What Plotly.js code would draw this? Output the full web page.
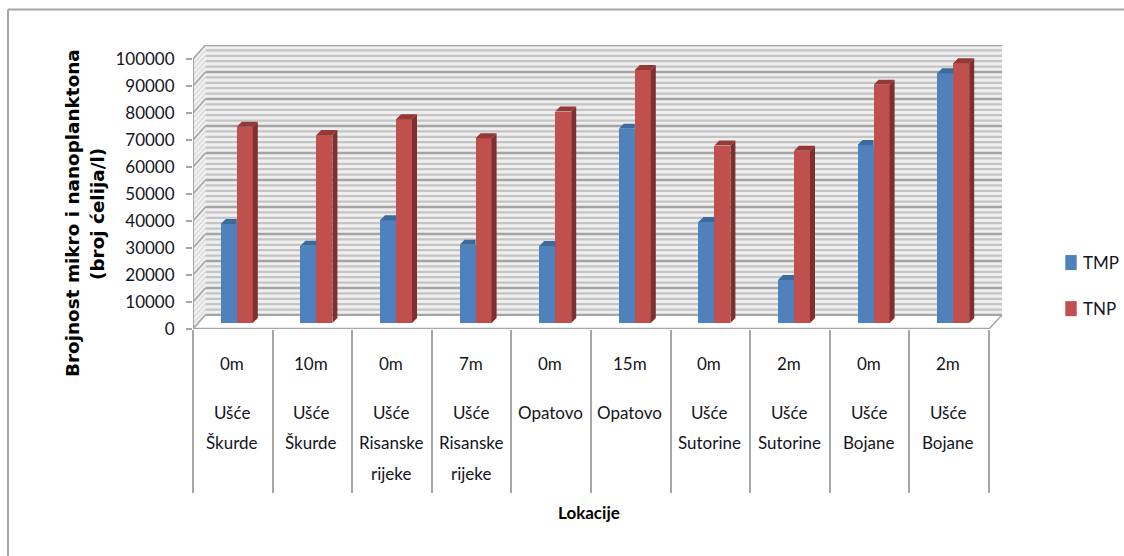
<!DOCTYPE html>
<html>
<head>
<meta charset="utf-8">
<script src="https://cdn.plot.ly/plotly-3.0.1.min.js"></script>
<style>html,body{margin:0;padding:0;background:#fff;overflow:hidden}</style>
</head>
<body>
<div style="width:1124px;height:556px;overflow:hidden"><div id="chart" style="width:1200px;height:556px"></div></div>
<script>
const depths = ["0m","10m","0m","7m","0m","15m","0m","2m","0m","2m"];
const locations = [
  ["Ušće","Škurde"],["Ušće","Škurde"],
  ["Ušće","Risanske","rijeke"],["Ušće","Risanske","rijeke"],
  ["Opatovo"],["Opatovo"],
  ["Ušće","Sutorine"],["Ušće","Sutorine"],
  ["Ušće","Bojane"],["Ušće","Bojane"]
];
const tmp = [36700,28600,38100,29000,28500,71900,37400,15900,65900,92500];
const tnp = [72700,69600,75500,68400,78300,93700,65700,63800,88200,96200];
const yTicks = [0,10000,20000,30000,40000,50000,60000,70000,80000,90000,100000];

// Scale of the chart frame, in pixels
const L = 193, PR = 1200, WALLR = 1002, T = 45, B = 329;
const pxPerCat = 79.6, pxPerUnit = 270 / 100000;
const dx = px => px / pxPerCat, dy = px => px / pxPerUnit;
const xEnd = (PR - L) / pxPerCat - 0.5, xWall = (WALLR - L) / pxPerCat - 0.5, yMax = (B - T) / pxPerUnit;
const X0 = -0.5, X1 = 9.5;
const wallX = dx(12.5), wallY = dy(14);
const barBase = dy(6), barOff = dx(-12), barW = dx(16), sideX = dx(5), sideY = dy(5);
const px2x = p => (p - L) / (PR - L), px2y = p => (B - p) / (B - T);

function polys(list) {
  const xs = [], ys = [];
  list.forEach(pts => { pts.forEach(p => { xs.push(p[0]); ys.push(p[1]); }); xs.push(pts[0][0]); ys.push(pts[0][1]); xs.push(null); ys.push(null); });
  return {x: xs, y: ys};
}
function face(pts, color) {
  const p = polys(pts);
  return {type:'scatter', mode:'lines', x:p.x, y:p.y, fill:'toself', fillcolor:color,
          line:{width:0,color:color}, hoverinfo:'skip', showlegend:false};
}
const idx = depths.map((_, i) => i);
const topFaceTmp = [], topFaceTnp = [], sideTnp = [];
idx.forEach(i => {
  const s0 = i + barOff, e0 = s0 + barW, e1 = e0 + barW;
  const t0 = barBase + tmp[i], t1 = barBase + tnp[i];
  topFaceTmp.push([[s0,t0],[e0,t0],[e0,t0+sideY],[s0+sideX,t0+sideY]]);
  topFaceTnp.push([[e0,t1],[e1,t1],[e1+sideX,t1+sideY],[e0+sideX,t1+sideY]]);
  sideTnp.push([[e1,barBase],[e1+sideX,barBase+sideY],[e1+sideX,t1+sideY],[e1,t1]]);
});

const traces = [
  {type:'bar', name:'TMP', x:idx, y:tmp, base:barBase, width:barW, offset:barOff,
   marker:{color:'#4f81bd',line:{width:0}}, legendgroup:'a', hovertemplate:'TMP %{y}<extra></extra>'},
  {type:'bar', name:'TNP', x:idx, y:tnp, base:barBase, width:barW, offset:barOff+barW,
   marker:{color:'#c0504d',line:{width:0}}, legendgroup:'b', hovertemplate:'TNP %{y}<extra></extra>'},
  face(topFaceTmp,'#3b6a9c'),
  face(sideTnp,'#7f2f2d'),
  face(topFaceTnp,'#933a37')
];

const GRID = '#a4a4a4', FRAME = '#a6a6a6';
const shapes = [];
const dataLine = (x0,y0,x1,y1,color,width) => ({type:'line',xref:'x',yref:'y',x0,y0,x1,y1,layer:'below',line:{color,width}});
// back wall
shapes.push({type:'rect',xref:'x',yref:'y',x0:X0+wallX,x1:xWall,y0:wallY,y1:yMax,layer:'below',fillcolor:'#efefef',line:{width:0}});
// side wall
shapes.push({type:'path',xref:'x',yref:'y',layer:'below',fillcolor:'#efefef',line:{width:0},
  path:`M${X0},0 L${X0+wallX},${wallY} L${X0+wallX},${yMax} L${X0},100000 Z`});
for (let v = 0; v <= 100000; v += 2000) {
  const major = v % 10000 === 0;
  shapes.push(dataLine(X0+wallX, v+wallY, xWall, v+wallY, major ? GRID : '#c4c4c4', major ? 2.6 : 2.2));
  shapes.push(dataLine(X0, v, X0+wallX, v+wallY, major ? GRID : '#cfcfcf', major ? 1.6 : 1));
}
// floor
shapes.push({type:'path',xref:'x',yref:'y',layer:'below',fillcolor:'#ffffff',line:{width:0},
  path:`M${X0},0 L${X1},0 L${xWall},${wallY} L${X0+wallX},${wallY} Z`});
shapes.push(dataLine(X0+wallX, wallY, xWall, wallY, GRID, 2));
shapes.push(dataLine(X0, 0, X0+wallX, wallY, FRAME, 1.5));
shapes.push(dataLine(X1, 0, xWall, wallY, FRAME, 1.5));
shapes.push(dataLine(X0, 0, X1, 0, FRAME, 2.5));
shapes.push(dataLine(X0, 0, X0, 100000, FRAME, 2));
// outer frame
const frameLine = (x0,y0,x1,y1) => ({type:'line',xref:'paper',yref:'paper',x0:px2x(x0),y0:px2y(y0),x1:px2x(x1),y1:px2y(y1),line:{color:FRAME,width:2}});
shapes.push(frameLine(8,9.5,1200,9.5));
shapes.push(frameLine(8,9.5,8,556));

const LATO = 'Lato, sans-serif';
const TEXT = '#14141c';
const catFont = {family:LATO, size:17, color:TEXT};
const annotations = [];
const lineRows = [412,442,473];
idx.forEach(i => {
  annotations.push({xref:'x',yref:'paper',x:i+dx(-1),y:px2y(363),text:depths[i],showarrow:false,font:catFont,xanchor:'center',yanchor:'middle'});
  locations[i].forEach((t,j) => annotations.push({xref:'x',yref:'paper',x:i+dx(-1),y:px2y(lineRows[j]),text:t,showarrow:false,font:catFont,xanchor:'center',yanchor:'middle'}));
});
const titleFamily = '"DejaVu Sans", sans-serif';
annotations.push({xref:'paper',yref:'paper',x:px2x(72),y:px2y(213),text:'<b>Brojnost mikro i nanoplanktona</b>',textangle:-90,showarrow:false,font:{family:titleFamily,size:18.4,color:'#000'},xanchor:'center',yanchor:'middle'});
annotations.push({xref:'paper',yref:'paper',x:px2x(97),y:px2y(214),text:'<b>(broj ćelija/l)</b>',textangle:-90,showarrow:false,font:{family:titleFamily,size:18.4,color:'#000'},xanchor:'center',yanchor:'middle'});
annotations.push({xref:'paper',yref:'paper',x:px2x(589),y:px2y(512),text:'<b>Lokacije</b>',showarrow:false,font:{family:LATO,size:17,color:'#000'},xanchor:'center',yanchor:'middle'});

const layout = {
  width:1200, height:556,
  margin:{l:L, r:1200-PR, t:T, b:556-B, pad:0},
  paper_bgcolor:'#fff', plot_bgcolor:'rgba(0,0,0,0)',
  barmode:'overlay', bargap:0,
  font:{family:LATO, size:17, color:TEXT},
  xaxis:{type:'linear', range:[X0,xEnd], showgrid:false, zeroline:false, showline:false,
         tickmode:'array', tickvals:[-0.5,0.5,1.5,2.5,3.5,4.5,5.5,6.5,7.5,8.5,9.5], ticktext:['','','','','','','','','','',''],
         ticks:'outside', ticklen:163, tickwidth:2, tickcolor:FRAME, fixedrange:true},
  yaxis:{range:[0,yMax], showgrid:false, zeroline:false, showline:false,
         tickmode:'array', tickvals:yTicks, ticktext:yTicks.map(String),
         ticks:'outside', ticklen:6, tickwidth:2, tickcolor:FRAME, ticklabelstandoff:8,
         tickfont:{family:LATO, size:17, color:TEXT}, fixedrange:true},
  showlegend:true,
  legend:{x:px2x(1043), y:px2y(245), xanchor:'left', yanchor:'top', tracegroupgap:21,
          itemwidth:30, bgcolor:'rgba(0,0,0,0)', font:{family:LATO, size:17, color:TEXT}},
  shapes, annotations
};
Plotly.newPlot('chart', traces, layout, {displayModeBar:false}).then(() => {
  document.querySelectorAll('#chart .legend .legendpoints path').forEach(p => {
    p.setAttribute('transform', 'translate(28,0) scale(0.95,1.25)');
  });
});
</script>
</body>
</html>
